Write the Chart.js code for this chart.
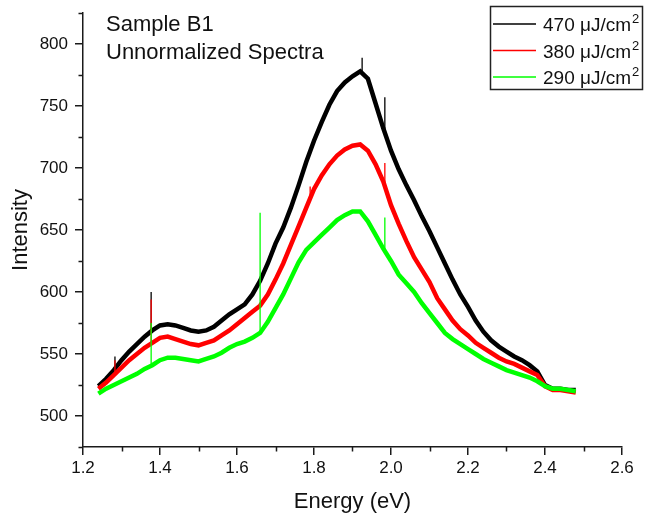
<!DOCTYPE html>
<html>
<head>
<meta charset="utf-8">
<script src="https://cdn.jsdelivr.net/npm/chart.js@4/dist/chart.umd.min.js"></script>
<style>
  html, body { margin: 0; padding: 0; background: #fff; }
  #wrap { width: 648px; height: 518px; }
</style>
</head>
<body>
<div id="wrap"><canvas id="chart" width="648" height="518"></canvas></div>
<script>
/* ================= DATA ================= */
const energy = [
  1.24, 1.26, 1.28, 1.30, 1.32, 1.34, 1.36, 1.38, 1.40, 1.42, 1.44, 1.46, 1.48, 1.50, 1.52, 1.54,
  1.56, 1.58, 1.60, 1.62, 1.64, 1.66, 1.68, 1.70, 1.72, 1.74, 1.76, 1.78, 1.80, 1.82, 1.84, 1.86,
  1.88, 1.90, 1.92, 1.94, 1.96, 1.98, 2.00, 2.02, 2.04, 2.06, 2.08, 2.10, 2.12, 2.14, 2.16, 2.18,
  2.20, 2.22, 2.24, 2.26, 2.28, 2.30, 2.32, 2.34, 2.36, 2.38, 2.40, 2.42, 2.44, 2.46, 2.48
];
const intensity470 = [
  524, 530, 537, 545, 552, 558, 564, 569, 573, 574, 573, 571, 569, 568, 569, 572,
  577, 582, 586, 590, 598, 609, 623, 639, 652, 668, 686, 705, 722, 737, 751, 762,
  769, 774, 778, 772, 752, 732, 714, 699, 686, 674, 661, 649, 636, 623, 610, 598,
  588, 577, 568, 561, 556, 552, 548, 545, 541, 536, 525, 522, 522, 521, 521
];
const intensity380 = [
  522, 527, 533, 539, 545, 550, 555, 559, 563, 564, 562, 560, 558, 557, 559, 561,
  565, 569, 574, 579, 584, 589, 598, 610, 623, 638, 653, 668, 683, 694, 703, 710,
  715, 718, 719, 714, 703, 689, 670, 655, 641, 628, 618, 608, 595, 586, 577, 570,
  565, 559, 555, 551, 547, 544, 542, 539, 536, 533, 524, 521, 521, 520, 519
];
const intensity290 = [
  518, 522, 525, 528, 531, 534, 538, 541, 545, 547, 547, 546, 545, 544, 546, 548,
  551, 555, 558, 560, 563, 567, 576, 587, 598, 611, 624, 634, 640, 646, 652, 658,
  662, 665, 665, 657, 646, 635, 625, 614, 607, 600, 591, 583, 575, 567, 562, 558,
  554, 550, 546, 543, 540, 537, 535, 533, 531, 528, 524, 522, 522, 521, 520
];

// narrow spikes: [energy, base, top]
const spikes470 = [[1.283, 539, 548], [1.377, 569, 600], [1.925, 777, 789], [1.984, 730, 757]];
const spikes380 = [[1.283, 535, 545], [1.377, 559, 594], [1.790, 675, 685], [1.984, 688, 704]];
const spikes290 = [[1.377, 541, 575], [1.660, 567, 664], [1.984, 633, 660]];

const seriesLabels = ["470 \u03bcJ/cm", "380 \u03bcJ/cm", "290 \u03bcJ/cm"];
const seriesColors = ["#000000", "#ff0000", "#00ff00"];

const xTicks = [1.2, 1.4, 1.6, 1.8, 2.0, 2.2, 2.4, 2.6];
const xMinorTicks = [1.3, 1.5, 1.7, 1.9, 2.1, 2.3, 2.5];
const yTicks = [500, 550, 600, 650, 700, 750, 800];
const yMinorTicks = [475, 525, 575, 625, 675, 725, 775, 825];

/* ================= HELPERS ================= */
const FONT = "'Liberation Sans', Arial, sans-serif";
const AXIS = "#1a1a1a";

const toPoints = ys => ys.map((y, i) => ({ x: energy[i], y }));

function bandDataset(ys, color, order) {
  return {
    data: toPoints(ys),
    borderColor: color,
    borderWidth: 4.5,
    pointRadius: 0,
    tension: 0,
    order
  };
}

function spikeDatasets(list, color, order) {
  return list.map(([x, base, top]) => ({
    data: [{ x, y: base }, { x, y: top }],
    borderColor: color,
    borderWidth: 1.3,
    pointRadius: 0,
    order
  }));
}

/* ================= DECOR (titles, legend, minor ticks) ================= */
const decor = {
  id: "decor",
  afterDraw(chart) {
    const { ctx, chartArea } = chart;
    const xs = chart.scales.x;
    const ys = chart.scales.y;

    ctx.save();
    // minor ticks
    ctx.strokeStyle = AXIS;
    ctx.lineWidth = 1.5;
    ctx.beginPath();
    xMinorTicks.forEach(v => {
      const px = Math.round(xs.getPixelForValue(v)) + 0.5;
      ctx.moveTo(px, chartArea.bottom);
      ctx.lineTo(px, chartArea.bottom + 4.5);
    });
    yMinorTicks.forEach(v => {
      const py = Math.round(ys.getPixelForValue(v)) + 0.5;
      ctx.moveTo(chartArea.left, py);
      ctx.lineTo(chartArea.left - 4.5, py);
    });
    ctx.stroke();

    // sample text
    ctx.fillStyle = "#111";
    ctx.textBaseline = "alphabetic";
    ctx.textAlign = "left";
    ctx.font = "22px " + FONT;
    ctx.fillText("Sample B1", 106, 31);
    ctx.fillText("Unnormalized Spectra", 106, 59);

    // legend box
    ctx.fillStyle = "#fff";
    ctx.fillRect(490, 6, 152, 83);
    ctx.strokeStyle = "#222";
    ctx.lineWidth = 1.5;
    ctx.strokeRect(490.5, 6.5, 152, 83);

    const rows = [24, 50.5, 77];
    seriesLabels.forEach((label, i) => {
      const y = rows[i];
      ctx.strokeStyle = seriesColors[i];
      ctx.lineWidth = 1.5;
      ctx.beginPath();
      ctx.moveTo(493, y);
      ctx.lineTo(536, y);
      ctx.stroke();

      ctx.fillStyle = "#111";
      ctx.font = "19px " + FONT;
      ctx.fillText(label, 543, y + 7);
      const w = ctx.measureText(label).width;
      ctx.font = "13px " + FONT;
      ctx.fillText("2", 543 + w + 1, y - 1);
    });
    ctx.restore();
  }
};

/* ================= CHART ================= */
const datasets = [
  bandDataset(intensity290, seriesColors[2], 0),
  ...spikeDatasets(spikes290, seriesColors[2], 0),
  bandDataset(intensity380, seriesColors[1], 1),
  ...spikeDatasets(spikes380, seriesColors[1], 1),
  bandDataset(intensity470, seriesColors[0], 2),
  ...spikeDatasets(spikes470, seriesColors[0], 2)
];

new Chart(document.getElementById("chart"), {
  type: "line",
  data: { datasets },
  options: {
    responsive: false,
    animation: false,
    layout: { padding: { top: 13, right: 26, left: 0, bottom: 0 } },
    plugins: { legend: { display: false }, tooltip: { enabled: false } },
    scales: {
      x: {
        type: "linear",
        min: 1.2,
        max: 2.6,
        afterBuildTicks: s => { s.ticks = xTicks.map(v => ({ value: v })); },
        afterFit: s => { s.height = 71; s.paddingLeft = 0; s.paddingRight = 0; },
        border: { color: AXIS, width: 1.5 },
        grid: { drawOnChartArea: false, drawTicks: true, tickLength: 8, color: AXIS, lineWidth: 1.5 },
        ticks: {
          color: "#111",
          font: { family: FONT, size: 17 },
          padding: 3,
          maxRotation: 0,
          callback: v => Number(v).toFixed(1)
        },
        title: {
          display: true,
          text: "Energy (eV)",
          color: "#111",
          font: { family: FONT, size: 22 },
          padding: { top: 0, bottom: 3 }
        }
      },
      y: {
        min: 475,
        max: 825,
        afterBuildTicks: s => { s.ticks = yTicks.map(v => ({ value: v })); },
        afterFit: s => { s.width = 83; s.paddingTop = 0; s.paddingBottom = 0; },
        border: { color: AXIS, width: 1.5 },
        grid: { drawOnChartArea: false, drawTicks: true, tickLength: 8, color: AXIS, lineWidth: 1.5 },
        ticks: {
          color: "#111",
          font: { family: FONT, size: 17 },
          padding: 7
        },
        title: {
          display: true,
          text: "Intensity",
          color: "#111",
          font: { family: FONT, size: 22 },
          padding: { top: 8, bottom: 0 }
        }
      }
    }
  },
  plugins: [decor]
});
</script>
</body>
</html>
